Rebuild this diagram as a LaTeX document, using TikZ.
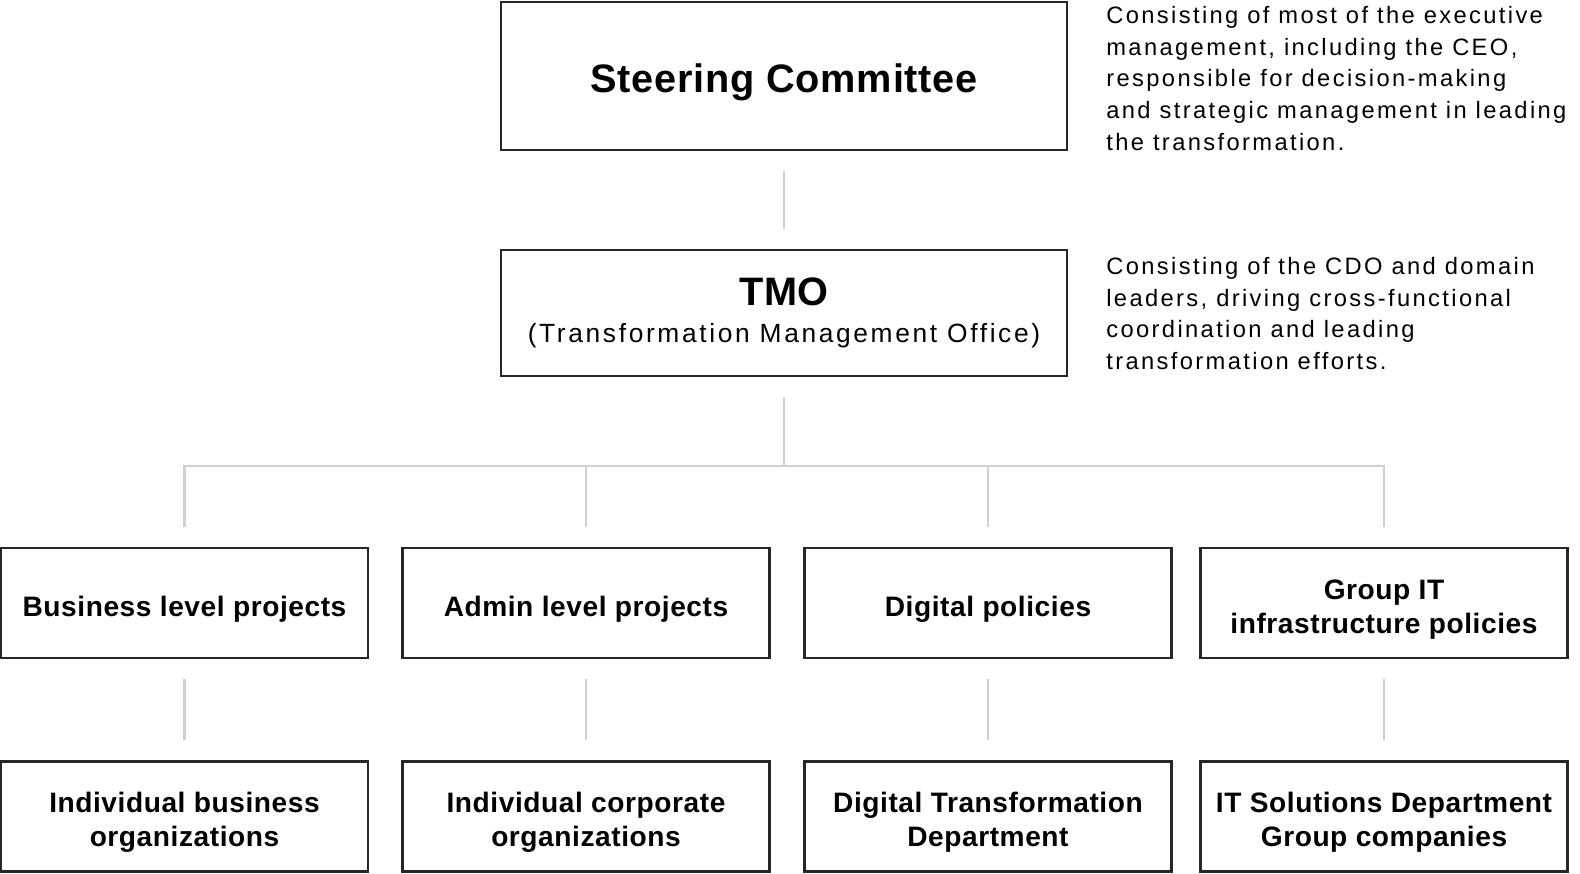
\documentclass[tikz,border=0pt]{standalone}
\usepackage{fontspec}
\setmainfont{Liberation Sans}
\newfontfamily\boxfont{Liberation Sans}[LetterSpace=2]
\newfontfamily\notefont{Liberation Sans}[LetterSpace=10]
\definecolor{linkgray}{RGB}{205,209,211}
\newcommand{\boxstrut}{\rule{0pt}{18.6pt}}

\begin{document}
\begin{tikzpicture}[x=0.02cm, y=-0.02cm,
  box/.style={draw=black!85, line width=1.2pt, align=center, inner sep=0pt,
    minimum width=7.34cm, minimum height=2.2cm,
    font=\boxfont\bfseries\fontsize{16}{19.3}\selectfont},
  link/.style={draw=linkgray, line width=1.2pt, shorten <=0.4cm, shorten >=0.4cm},
  note/.style={anchor=north west, align=left, inner sep=0pt,
    font=\notefont\fontsize{13.5}{18}\selectfont}]

\useasboundingbox (0,0) rectangle (1580,873);

% Top of the chart
\node[box, minimum width=11.32cm, minimum height=2.96cm,
  font=\boxfont\bfseries\fontsize{22.6}{27}\selectfont] (sc) at (784,76) {\rule{0pt}{23pt}Steering Committee};
\node[box, minimum width=11.32cm, minimum height=2.52cm, font=\boxfont] (tmo) at (784,313)
  {{\bfseries\fontsize{22.6}{27}\selectfont TMO}\\[9pt]
   {\notefont\fontsize{15}{20}\selectfont (Transformation Management Office)}};

\node[note] (scnote) at (1106,6) {Consisting of most of the executive\\
management, including the CEO,\\
responsible for decision-making\\
and strategic management in leading\\
the transformation.};
\node[note] (tmonote) at (1106,257) {Consisting of the CDO and domain\\
leaders, driving cross-functional\\
coordination and leading\\
transformation efforts.};

% Projects and policies
\node[box] (p1) at (184.5,603) {\boxstrut Business level projects};
\node[box] (p2) at (586,603) {\boxstrut Admin level projects};
\node[box] (p3) at (988,603) {\boxstrut Digital policies};
\node[box] (p4) at (1384,603) {\boxstrut Group IT\\infrastructure policies};

% Organizations
\node[box] (o1) at (184.5,816.5) {\boxstrut Individual business\\organizations};
\node[box] (o2) at (586,816.5) {\boxstrut Individual corporate\\organizations};
\node[box] (o3) at (988,816.5) {\boxstrut Digital Transformation\\Department};
\node[box] (o4) at (1384,816.5) {\boxstrut IT Solutions Department\\Group companies};

\coordinate (bus) at (784,466);

\draw[link] (sc) -- (tmo);
\draw[link, shorten >=0pt] (tmo) -- (bus);
\draw[link, line join=miter] (p1) |- (bus) -| (p4);
\foreach \i in {2,3} {
  \draw[link, shorten <=0pt] (p\i.north |- bus) -- (p\i);
}
\foreach \i in {1,...,4} {
  \draw[link] (p\i) -- (o\i);
}

\end{tikzpicture}
\end{document}
